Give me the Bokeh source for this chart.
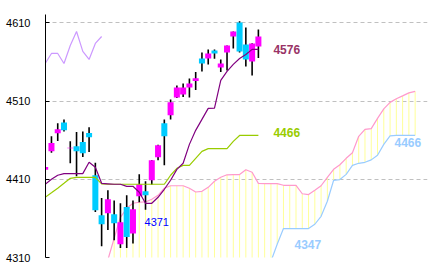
from bokeh.plotting import figure
from bokeh.models import Range1d, FixedTicker, ColumnDataSource
from bokeh.embed import file_html
from bokeh.resources import INLINE
from bokeh.core.properties import value

# ---- data ----
opens = [4422.2, 4445.7, 4468.7, 4482.7, 4449.5, 4452.1, 4457.6, 4469.1, 4415.0, 4364.0,
         4366.5, 4365.3, 4327.0, 4374.6, 4340.8, 4388.3, 4394.6, 4408.7, 4438.0, 4481.5,
         4491.7, 4514.6, 4518.5, 4527.4, 4535.5, 4564.4, 4564.4, 4574.6, 4552.9, 4572.1,
         4592.5, 4610.4, 4582.3, 4560.6, 4579.7]
highs = [4428.0, 4465.0, 4481.5, 4486.5, 4458.5, 4470.3, 4471.2, 4476.4, 4431.0, 4386.0,
         4396.0, 4383.0, 4379.3, 4389.5, 4383.0, 4416.3, 4407.4, 4434.5, 4454.0, 4486.5,
         4512.1, 4530.0, 4532.5, 4538.9, 4547.0, 4572.0, 4575.9, 4576.0, 4563.0, 4581.0,
         4599.0, 4612.0, 4604.0, 4584.0, 4601.4]
lows = [4420.0, 4444.0, 4459.0, 4471.0, 4430.5, 4413.8, 4438.4, 4444.8, 4368.2, 4324.4,
        4345.0, 4332.0, 4322.0, 4322.0, 4328.0, 4380.6, 4371.0, 4403.0, 4434.2, 4427.8,
        4486.5, 4514.0, 4515.0, 4514.6, 4524.0, 4547.8, 4556.8, 4564.0, 4547.0, 4549.0,
        4577.0, 4572.0, 4554.2, 4542.7, 4565.0]
closes = [4425.7, 4456.3, 4473.8, 4472.5, 4450.2, 4445.7, 4443.1, 4463.6, 4370.4, 4352.5,
          4384.4, 4353.8, 4355.0, 4336.3, 4371.7, 4403.6, 4389.5, 4434.2, 4453.4, 4464.9,
          4508.3, 4527.4, 4527.4, 4532.5, 4539.0, 4558.0, 4570.8, 4570.8, 4558.0, 4581.0,
          4598.9, 4573.4, 4563.1, 4583.6, 4592.5]

tenkan = [4403.6, 4410.0, 4415.1, 4417.2, 4417.2, 4417.2, 4417.2, 4431.7, 4425.3, 4404.8,
          4404.2, 4403.6, 4403.6, 4401.0, 4401.0, 4393.4, 4379.3, 4379.3, 4387.0, 4397.2,
          4408.7, 4422.7, 4430.4, 4454.6, 4472.5, 4486.5, 4500.6, 4501.0, 4536.3, 4547.8,
          4556.8, 4564.4, 4569.5, 4576.0, 4576.0]
kijun = [4387.0, 4392.7, 4398.5, 4404.8, 4411.2, 4412.5, 4412.5, 4412.5, 4412.5, 4404.2,
         4403.6, 4403.6, 4403.6, 4403.6, 4403.6, 4403.6, 4403.6, 4403.6, 4403.6, 4403.6,
         4415.1, 4424.0, 4427.8, 4427.8, 4436.8, 4445.7, 4449.1, 4449.1, 4449.1, 4449.1,
         4458.5, 4466.0, 4466.0, 4466.0, 4466.0]

span_start = 10
span_a = [4307.0, 4334.6, 4361.4, 4372.9, 4379.3, 4380.6, 4381.0, 4384.4, 4389.5, 4398.5,
          4401.7, 4401.7, 4401.7, 4398.5, 4393.7, 4394.6, 4399.7, 4407.4, 4412.5, 4415.7,
          4416.0, 4416.0, 4422.1, 4418.9, 4404.8, 4404.5, 4404.5, 4404.5, 4402.3, 4402.3,
          4402.3, 4391.5, 4390.4, 4395.9, 4401.7, 4412.5, 4422.7, 4428.5, 4436.8, 4443.8,
          4464.9, 4473.8, 4474.7, 4487.8, 4500.0, 4508.3, 4513.0, 4516.6, 4520.4, 4522.3]
span_b = [4290.0, 4290.0, 4290.0, 4290.0, 4290.0, 4290.0, 4290.0, 4290.0, 4290.0, 4290.0,
          4290.0, 4290.0, 4290.0, 4290.0, 4290.0, 4290.0, 4290.0, 4290.0, 4290.0, 4290.0,
          4290.0, 4290.0, 4290.0, 4290.0, 4290.0, 4290.0, 4305.0, 4327.0, 4347.0, 4347.0,
          4347.0, 4347.0, 4347.0, 4352.5, 4362.7, 4381.9, 4408.7, 4409.6, 4416.3, 4427.8,
          4430.4, 4431.7, 4434.8, 4440.6, 4454.6, 4465.5, 4466.0, 4466.0, 4466.0, 4466.0]
chikou_shift = 25
y_ticks = [4310, 4410, 4510, 4610]
span_b_flat = 4347.0
recent_low_index = 16

# ---- derived tables ----
idx = list(range(len(closes)))
up = [c >= o for o, c in zip(opens, closes)]
candles = ColumnDataSource(dict(
    x=idx, high=highs, low=lows,
    top=[max(o, c) for o, c in zip(opens, closes)],
    bottom=[min(o, c) for o, c in zip(opens, closes)],
    color=["#ff00ff" if u else "#00ccff" for u in up],
))
span_x = [span_start + i for i in range(len(span_a))]
chikou_x = [i - chikou_shift for i in idx]

p = figure(width=432, height=271, output_backend="svg", toolbar_location=None,
           x_range=Range1d(0.05, 60.97), y_range=Range1d(4310, 4620.6),
           min_border_left=45, min_border_right=5, min_border_top=14, min_border_bottom=14)
p.xaxis.visible = False
p.xgrid.visible = False
p.outline_line_color = None
p.background_fill_color = "white"
p.border_fill_color = "white"

yax = p.yaxis[0]
yax.ticker = FixedTicker(ticks=y_ticks)
yax.minor_tick_line_color = None
yax.major_tick_in = 4
yax.major_tick_out = 0
yax.axis_line_color = "black"
yax.major_tick_line_color = "black"
yax.major_label_standoff = 15
yax.major_label_text_font = "Liberation Sans"
yax.major_label_text_font_size = "11px"
yax.major_label_text_color = "black"
p.ygrid.grid_line_color = "#c0c0c0"
p.ygrid.grid_line_dash = "4 3"

# cloud hatching
p.segment(x0=span_x, y0=span_a, x1=span_x, y1=span_b, line_color="#ffff99", line_width=1)
p.line(span_x, span_a, line_color="#ff99cc", line_width=1.2)
p.line(span_x, span_b, line_color="#99ccff", line_width=1.2)

# candles
p.segment(x0="x", y0="high", x1="x", y1="low", source=candles, line_color="black", line_width=1.6)
p.vbar(x="x", width=0.96, top="top", bottom="bottom", source=candles,
       fill_color="color", line_color=None)

# lines
p.line(idx, kijun, line_color="#99cc00", line_width=1.2)
p.line(idx, tenkan, line_color="#800080", line_width=1.2)
p.line(chikou_x, closes, line_color="#cc99ff", line_width=1.2)

# value labels
last = idx[-1]
end = span_x[-1]
bmin_i = span_b.index(span_b_flat)
lab = ColumnDataSource(dict(
    x=[last, last, end, span_x[bmin_i]],
    y=[tenkan[-1], kijun[-1], span_b[-1], span_b[bmin_i]],
    text=[f"{tenkan[-1]:.0f}", f"{kijun[-1]:.0f}", f"{span_b[-1]:.0f}", f"{span_b[bmin_i]:.0f}"],
    color=["#993366", "#99cc00", "#99ccff", "#99ccff"],
    xo=[15, 15, 6, 11],
    yo=[0, -3, 7.5, 16],
    align=["left", "left", "right", "left"],
))
p.text(x="x", y="y", text="text", text_color="color", x_offset="xo", y_offset="yo",
       text_align="align", text_baseline="middle", source=lab,
       text_font=value("Liberation Sans"), text_font_style="bold", text_font_size="12px")
li = recent_low_index
p.text(x=[li], y=[lows[li]], text=[f"{lows[li]:.0f}"], text_color="#0000ff",
       x_offset=-1, y_offset=12, text_align="left", text_baseline="middle",
       text_font=value("Liberation Sans"), text_font_size="11px")

open("out.html", "w").write(file_html(p, INLINE))
